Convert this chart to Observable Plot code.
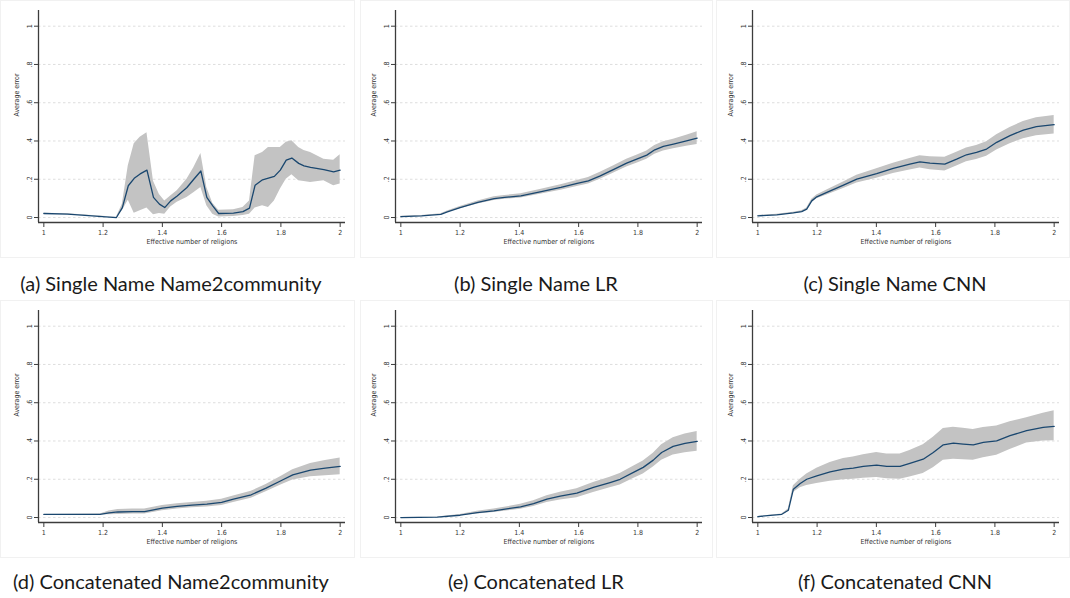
<!DOCTYPE html>
<html>
<head>
<meta charset="utf-8">
<script src="https://cdn.jsdelivr.net/npm/d3@7"></script>
<script src="https://cdn.jsdelivr.net/npm/@observablehq/plot@0.6"></script>
<style>
  html, body { margin: 0; padding: 0; background: #fff; }
  body { position: relative; width: 1070px; height: 598px; overflow: hidden; }
  .panel { position: absolute; }
  .box { position: absolute; border: 1px solid #f1f1f1; box-sizing: border-box; }
  .cap {
    position: absolute; transform: translateX(-50%); white-space: nowrap;
    font-family: Lato, Roboto, "Noto Sans", sans-serif; font-size: 20px; line-height: 20px; color: #1a1a1a;
  }
</style>
</head>
<body>
<script>
// Shared axis ticks
const xTicks = [1, 1.2, 1.4, 1.6, 1.8, 2];
const yTicks = [0, 0.2, 0.4, 0.6, 0.8, 1];
const xTitle = "Effective number of religions";
const yTitle = "Average error";

const captions = [
  "(a) Single Name Name2community",
  "(b) Single Name LR",
  "(c) Single Name CNN",
  "(d) Concatenated Name2community",
  "(e) Concatenated LR",
  "(f) Concatenated CNN"
];

// (a) Single name, Name2community
const singleN2cX    = [1.00, 1.08, 1.245, 1.265, 1.285, 1.305, 1.325, 1.348, 1.370, 1.390, 1.408, 1.428, 1.450, 1.483, 1.506, 1.530, 1.550, 1.570, 1.590, 1.640, 1.672, 1.694, 1.713, 1.738, 1.758, 1.778, 1.798, 1.818, 1.837, 1.860, 1.878, 1.900, 1.945, 1.978, 2.000];
const singleN2cMean = [0.021, 0.018, 0.000, 0.052, 0.166, 0.205, 0.228, 0.248, 0.105, 0.070, 0.052, 0.087, 0.113, 0.157, 0.200, 0.243, 0.105, 0.061, 0.021, 0.023, 0.031, 0.049, 0.169, 0.197, 0.206, 0.215, 0.248, 0.300, 0.311, 0.283, 0.270, 0.262, 0.250, 0.239, 0.248];
const singleN2cLo   = [0.019, 0.016, 0.000, 0.035, 0.090, 0.022, 0.035, 0.050, 0.014, 0.021, 0.017, 0.055, 0.080, 0.105, 0.130, 0.157, 0.061, 0.017, 0.003, 0.006, 0.010, 0.017, 0.050, 0.061, 0.052, 0.087, 0.148, 0.200, 0.223, 0.192, 0.188, 0.183, 0.192, 0.166, 0.175];
const singleN2cHi   = [0.023, 0.020, 0.002, 0.070, 0.270, 0.385, 0.420, 0.443, 0.190, 0.120, 0.087, 0.113, 0.140, 0.200, 0.260, 0.335, 0.157, 0.075, 0.038, 0.040, 0.052, 0.087, 0.323, 0.340, 0.366, 0.366, 0.366, 0.393, 0.401, 0.366, 0.350, 0.340, 0.305, 0.300, 0.328];

// (b) Single name, LR
const singleLRX    = [1.0, 1.07, 1.135, 1.157, 1.2, 1.26, 1.315, 1.35, 1.405, 1.47, 1.54, 1.595, 1.633, 1.673, 1.717, 1.762, 1.796, 1.83, 1.857, 1.886, 1.92, 1.964, 2.0];
const singleLRMean = [0.005, 0.009, 0.017, 0.030, 0.052, 0.079, 0.099, 0.105, 0.113, 0.134, 0.157, 0.178, 0.192, 0.218, 0.250, 0.284, 0.305, 0.326, 0.354, 0.372, 0.384, 0.401, 0.415];
const singleLRLo   = [0.003, 0.007, 0.014, 0.026, 0.046, 0.071, 0.089, 0.095, 0.102, 0.122, 0.143, 0.162, 0.175, 0.200, 0.231, 0.264, 0.284, 0.304, 0.331, 0.348, 0.359, 0.372, 0.382];
const singleLRHi   = [0.007, 0.011, 0.020, 0.034, 0.058, 0.087, 0.109, 0.115, 0.124, 0.146, 0.171, 0.194, 0.209, 0.236, 0.269, 0.304, 0.326, 0.348, 0.377, 0.396, 0.409, 0.430, 0.448];

// (c) Single name, CNN
const singleCNNX    = [1.0, 1.064, 1.12, 1.148, 1.165, 1.182, 1.199, 1.233, 1.289, 1.334, 1.401, 1.457, 1.513, 1.547, 1.581, 1.631, 1.671, 1.704, 1.738, 1.772, 1.806, 1.851, 1.896, 1.94, 2.0];
const singleCNNMean = [0.009, 0.014, 0.024, 0.031, 0.044, 0.087, 0.108, 0.131, 0.169, 0.201, 0.230, 0.257, 0.279, 0.291, 0.284, 0.279, 0.305, 0.328, 0.340, 0.358, 0.393, 0.428, 0.457, 0.475, 0.485];
const singleCNNLo   = [0.007, 0.011, 0.020, 0.026, 0.038, 0.079, 0.098, 0.118, 0.152, 0.181, 0.205, 0.230, 0.249, 0.259, 0.250, 0.243, 0.269, 0.292, 0.303, 0.320, 0.353, 0.385, 0.412, 0.428, 0.437];
const singleCNNHi   = [0.011, 0.017, 0.028, 0.036, 0.050, 0.095, 0.118, 0.144, 0.186, 0.221, 0.255, 0.284, 0.309, 0.323, 0.318, 0.315, 0.341, 0.364, 0.377, 0.396, 0.433, 0.471, 0.502, 0.522, 0.533];

// (d) Concatenated, Name2community
const concatN2cX    = [1.0, 1.19, 1.22, 1.25, 1.3, 1.34, 1.4, 1.45, 1.5, 1.55, 1.6, 1.64, 1.7, 1.75, 1.8, 1.84, 1.9, 1.95, 2.0];
const concatN2cMean = [0.016, 0.016, 0.024, 0.029, 0.031, 0.031, 0.049, 0.058, 0.065, 0.070, 0.079, 0.096, 0.119, 0.154, 0.192, 0.223, 0.248, 0.258, 0.267];
const concatN2cLo   = [0.016, 0.014, 0.014, 0.016, 0.018, 0.018, 0.035, 0.044, 0.051, 0.055, 0.063, 0.079, 0.101, 0.135, 0.170, 0.196, 0.213, 0.218, 0.223];
const concatN2cHi   = [0.016, 0.018, 0.034, 0.042, 0.044, 0.044, 0.063, 0.072, 0.079, 0.085, 0.095, 0.113, 0.137, 0.173, 0.214, 0.250, 0.283, 0.298, 0.311];

// (e) Concatenated, LR
const concatLRX    = [1.0, 1.123, 1.2, 1.258, 1.314, 1.404, 1.448, 1.493, 1.538, 1.594, 1.65, 1.706, 1.74, 1.785, 1.818, 1.852, 1.88, 1.919, 1.959, 2.0];
const concatLRMean = [0.000, 0.002, 0.012, 0.026, 0.035, 0.056, 0.073, 0.096, 0.112, 0.127, 0.157, 0.183, 0.200, 0.236, 0.262, 0.300, 0.340, 0.372, 0.387, 0.398];
const concatLRLo   = [0.000, 0.001, 0.008, 0.019, 0.026, 0.043, 0.058, 0.078, 0.092, 0.104, 0.131, 0.155, 0.170, 0.204, 0.228, 0.264, 0.300, 0.327, 0.338, 0.346];
const concatLRHi   = [0.000, 0.003, 0.016, 0.033, 0.044, 0.069, 0.088, 0.114, 0.132, 0.150, 0.183, 0.211, 0.230, 0.268, 0.296, 0.336, 0.380, 0.417, 0.436, 0.450];

// (f) Concatenated, CNN
const concatCNNX    = [1.0, 1.081, 1.103, 1.12, 1.143, 1.165, 1.199, 1.244, 1.289, 1.322, 1.356, 1.401, 1.435, 1.48, 1.513, 1.558, 1.592, 1.626, 1.66, 1.693, 1.727, 1.761, 1.806, 1.851, 1.907, 1.963, 2.0];
const concatCNNMean = [0.005, 0.017, 0.038, 0.148, 0.178, 0.200, 0.218, 0.239, 0.253, 0.258, 0.267, 0.274, 0.267, 0.267, 0.283, 0.305, 0.340, 0.380, 0.389, 0.384, 0.380, 0.393, 0.401, 0.428, 0.454, 0.471, 0.476];
const concatCNNLo   = [0.005, 0.015, 0.032, 0.131, 0.155, 0.168, 0.178, 0.190, 0.198, 0.200, 0.205, 0.209, 0.203, 0.200, 0.212, 0.230, 0.260, 0.300, 0.305, 0.302, 0.300, 0.312, 0.325, 0.355, 0.390, 0.400, 0.401];
const concatCNNHi   = [0.005, 0.019, 0.044, 0.166, 0.200, 0.227, 0.258, 0.288, 0.308, 0.316, 0.328, 0.340, 0.332, 0.332, 0.350, 0.380, 0.420, 0.465, 0.472, 0.466, 0.460, 0.470, 0.478, 0.500, 0.522, 0.545, 0.558];

const series = [
  [singleN2cX, singleN2cMean, singleN2cLo, singleN2cHi],
  [singleLRX, singleLRMean, singleLRLo, singleLRHi],
  [singleCNNX, singleCNNMean, singleCNNLo, singleCNNHi],
  [concatN2cX, concatN2cMean, concatN2cLo, concatN2cHi],
  [concatLRX, concatLRMean, concatLRLo, concatLRHi],
  [concatCNNX, concatCNNMean, concatCNNLo, concatCNNHi]
];

// Panel placement on the page
const panelLeft = [0, 357, 714];
const panelTop = [0, 300];
const boxLeft = [0, 360, 716];
const boxWidth = [355, 353, 354];
const capCenter = [171, 536, 895];
const capTop = [273, 571];

const xDomain = [0.982, 2.018];
const yDomain = [-0.026, 1.082];
const axisFont = "'Liberation Sans Narrow', 'DejaVu Sans Condensed', 'Liberation Sans', Arial, sans-serif";
const yFmt = d => d === 0 ? "0" : d === 1 ? "1" : String(d).replace(/^0/, "");

function panel([xs, mean, lo, hi]) {
  const rows = xs.map((x, i) => ({x, mean: mean[i], lo: lo[i], hi: hi[i]}));
  return Plot.plot({
    width: 355,
    height: 257,
    marginLeft: 38,
    marginRight: 10,
    marginTop: 10,
    marginBottom: 35,
    style: {fontFamily: axisFont, fontSize: "7px", color: "#333", background: "transparent", overflow: "visible"},
    x: {domain: xDomain},
    y: {domain: yDomain},
    marks: [
      Plot.ruleY(yTicks, {stroke: "#d6d6d6", strokeWidth: 0.8, strokeDasharray: "2.5,2.5"}),
      Plot.areaY(rows, {x: "x", y1: "lo", y2: "hi", fill: "#c3c3c3", curve: "linear"}),
      Plot.line(rows, {x: "x", y: "mean", stroke: "#1a476f", strokeWidth: 1.3}),
      Plot.ruleX([xDomain[0]], {stroke: "#3c3c3c", strokeWidth: 1.3}),
      Plot.ruleY([yDomain[0]], {stroke: "#3c3c3c", strokeWidth: 1.3}),
      Plot.axisX(xTicks, {tickSize: 5, tickPadding: 2.5, tickFormat: d => String(d), label: null, stroke: "#3c3c3c", fill: "#333"}),
      Plot.axisY(yTicks, {tickSize: 4, tickPadding: 2.5, tickRotate: -90, tickFormat: yFmt, label: null, stroke: "#3c3c3c", fill: "#333"}),
      Plot.text([yTitle], {text: d => d, frameAnchor: "left", dx: -22, rotate: -90, fontSize: 7, fill: "#333"}),
      Plot.text([xTitle], {text: d => d, frameAnchor: "bottom", dy: 21, fontSize: 7, fill: "#333"})
    ]
  });
}

series.forEach((s, i) => {
  const col = i % 3, row = Math.floor(i / 3);
  const box = document.createElement("div");
  box.className = "box";
  box.style.left = boxLeft[col] + "px";
  box.style.top = (panelTop[row]) + "px";
  box.style.width = boxWidth[col] + "px";
  box.style.height = "258px";
  document.body.appendChild(box);

  const wrap = document.createElement("div");
  wrap.className = "panel";
  wrap.style.left = panelLeft[col] + "px";
  wrap.style.top = panelTop[row] + "px";
  wrap.appendChild(panel(s));
  document.body.appendChild(wrap);

  const cap = document.createElement("div");
  cap.className = "cap";
  cap.style.left = capCenter[col] + "px";
  cap.style.top = capTop[row] + "px";
  cap.textContent = captions[i];
  document.body.appendChild(cap);
});
</script>
</body>
</html>
